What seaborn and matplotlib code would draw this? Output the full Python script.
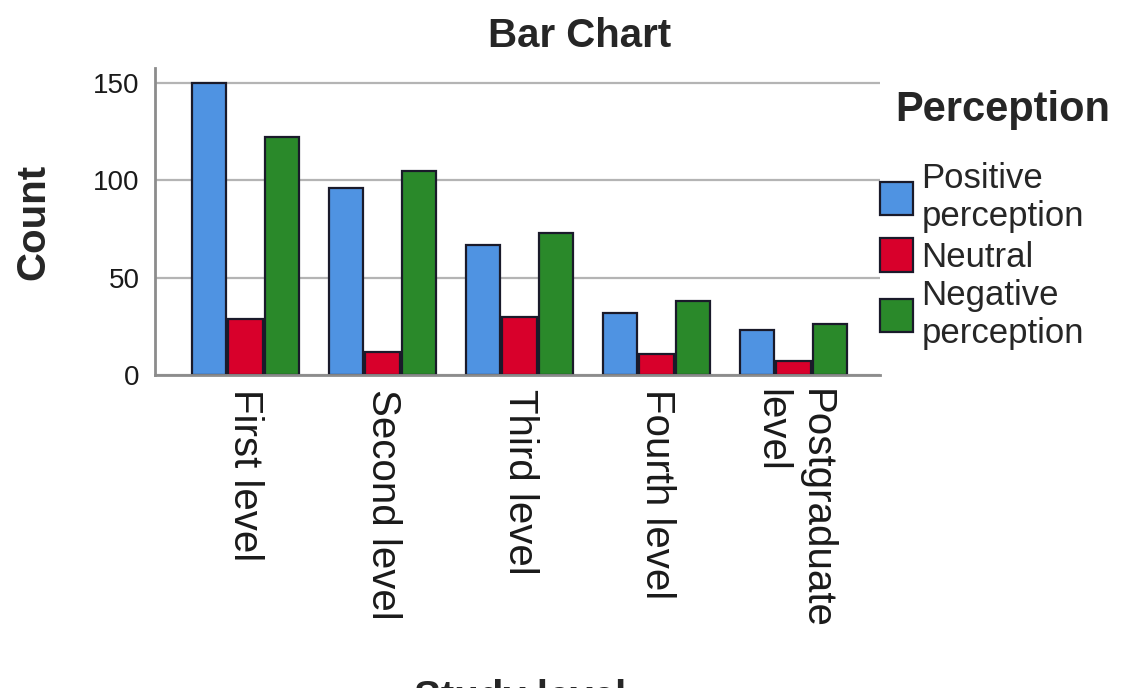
import matplotlib
matplotlib.use("Agg")
import matplotlib.pyplot as plt
import seaborn as sns
import pandas as pd

# Counts of perception responses by study level
levels = ["First level", "Second level", "Third level", "Fourth level", "Postgraduate\nlevel"]
perceptions = ["Positive\nperception", "Neutral", "Negative\nperception"]
positive = [150, 96, 67, 32, 23]
neutral = [29, 12, 30, 11, 7]
negative = [122, 105, 73, 38, 26]

colors = ["#4f93e2", "#d8002b", "#2a892a"]

rows = []
for lvl, p, n, g in zip(levels, positive, neutral, negative):
    rows.append((lvl, perceptions[0], p))
    rows.append((lvl, perceptions[1], n))
    rows.append((lvl, perceptions[2], g))
df = pd.DataFrame(rows, columns=["Study level", "Perception", "Count"])

sns.set_theme(style="white")
plt.rcParams["font.family"] = ["Liberation Sans Narrow", "Liberation Sans", "DejaVu Sans"]

fig = plt.figure(figsize=(11.28, 6.88), dpi=100)
ax = fig.add_axes([155 / 1128, 1 - 375 / 688, (880 - 155) / 1128, (375 - 68) / 688])

sns.barplot(
    data=df, x="Study level", y="Count", hue="Perception",
    hue_order=perceptions, order=levels, palette=colors,
    width=0.8, gap=0.06, edgecolor="#1a1a2a", linewidth=1.6,
    saturation=1, ax=ax, legend=True,
)

ax.set_xlim(-0.66, 4.63)
ax.set_ylim(0, 157.7)
ax.set_yticks([0, 50, 100, 150])
ax.yaxis.grid(True, color="#b4b4b4", linewidth=1.6)
ax.set_axisbelow(True)
for side in ["top", "right"]:
    ax.spines[side].set_visible(False)
for side in ["left", "bottom"]:
    ax.spines[side].set_color("#8c8c8c")
    ax.spines[side].set_linewidth(2)

ax.tick_params(axis="y", length=0, pad=11, labelsize=20, labelcolor="#1a1a1a")
ax.tick_params(axis="x", length=0, pad=10, labelsize=29, labelcolor="#1a1a1a")
for lab in ax.get_xticklabels():
    lab.set_rotation(-90)
    lab.set_va("top")
    lab.set_ha("center")
    lab.set_multialignment("left")

ax.set_xlabel("")
ax.set_ylabel("")

bold = ["Liberation Sans", "DejaVu Sans"]
fig.text(580 / 1128, 1 - 36 / 688, "Bar Chart", ha="center", va="center",
         fontsize=29, fontweight="bold", family=bold)
fig.text(33 / 1128, 1 - 222 / 688, "Count", ha="center", va="center",
         rotation=90, fontsize=29, fontweight="bold", family=bold)
fig.text(520 / 1128, 1 - 679 / 688, "Study level", ha="center", va="top",
         fontsize=29, fontweight="bold", family=bold)
fig.text(895 / 1128, 1 - 110 / 688, "Perception", ha="left", va="center",
         fontsize=30, fontweight="bold", family=bold)

handles, labels = ax.get_legend_handles_labels()
ax.get_legend().remove()
leg = fig.legend(
    handles, labels, loc="upper left",
    bbox_to_anchor=(866 / 1128, 1 - 148 / 688), frameon=False,
    fontsize=25, handlelength=0.95, handleheight=1.1, handletextpad=0.25,
    labelspacing=0.15, borderaxespad=0,
)

fig.savefig("out.png", dpi=100, facecolor="white")
